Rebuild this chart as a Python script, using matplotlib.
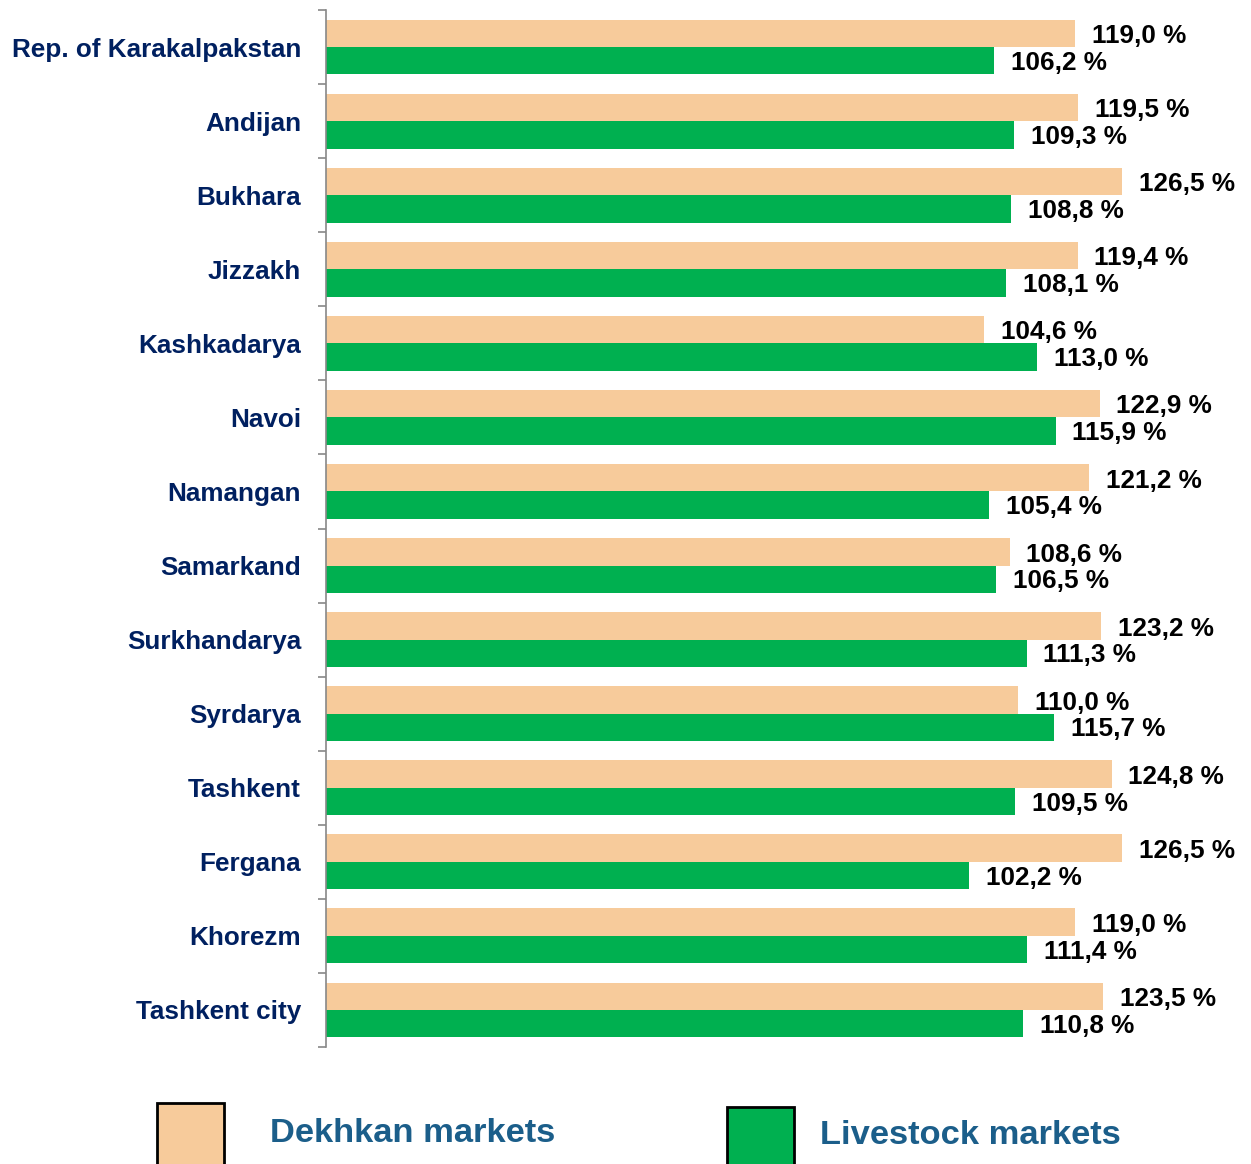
import matplotlib.pyplot as plt
from matplotlib.patches import Rectangle
import numpy as np

regions = ["Rep. of Karakalpakstan", "Andijan", "Bukhara", "Jizzakh", "Kashkadarya",
           "Navoi", "Namangan", "Samarkand", "Surkhandarya", "Syrdarya",
           "Tashkent", "Fergana", "Khorezm", "Tashkent city"]
dekhkan = [119.0, 119.5, 126.5, 119.4, 104.6, 122.9, 121.2, 108.6, 123.2, 110.0,
           124.8, 126.5, 119.0, 123.5]
livestock = [106.2, 109.3, 108.8, 108.1, 113.0, 115.9, 105.4, 106.5, 111.3, 115.7,
             109.5, 102.2, 111.4, 110.8]

ORANGE = "#F7CB9B"
GREEN = "#00B050"
NAVY = "#002060"
TEAL = "#1B5E8A"

plt.rcParams['font.family'] = ['Liberation Sans', 'DejaVu Sans']

W, H = 1251, 1164
fig = plt.figure(figsize=(W / 100, H / 100), dpi=100)
ax = fig.add_axes([326 / W, 1 - 1047 / H, (1245 - 326) / W, (1047 - 10) / H])

y = np.arange(len(regions))
bh = 0.37
ax.barh(y - bh / 2, dekhkan, height=bh, color=ORANGE)
ax.barh(y + bh / 2, livestock, height=bh, color=GREEN)

for yi, v in zip(y, dekhkan):
    ax.annotate(f"{v:.1f} %".replace(".", ","), (v, yi - bh / 2), xytext=(12, -2),
                textcoords="offset points", va="center", ha="left",
                fontsize=18.8, fontweight="bold", color="black")
for yi, v in zip(y, livestock):
    ax.annotate(f"{v:.1f} %".replace(".", ","), (v, yi + bh / 2), xytext=(12, -1.5),
                textcoords="offset points", va="center", ha="left",
                fontsize=18.8, fontweight="bold", color="black")

ax.set_xlim(0, 146)
ax.set_ylim(len(regions) - 0.5, -0.5)

for s in ["top", "right", "bottom"]:
    ax.spines[s].set_visible(False)
ax.spines["left"].set_color("#888888")
ax.spines["left"].set_linewidth(1.2)
ax.set_xticks([])

# tick marks between categories, names centred on each pair of bars
ax.set_yticks(np.arange(-0.5, len(regions), 1))
ax.set_yticklabels([])
ax.tick_params(axis="y", which="major", length=6, width=1.2, color="#888888")
ax.set_yticks(y, minor=True)
ax.set_yticklabels(regions, minor=True, fontsize=18.8, fontweight="bold", color=NAVY)
ax.tick_params(axis="y", which="minor", length=0, pad=18)

# legend at the bottom
fig.patches.append(Rectangle((157 / W, 1 - 1166 / H), 67 / W, 63 / H,
                             transform=fig.transFigure, facecolor=ORANGE,
                             edgecolor="black", linewidth=2, clip_on=False))
fig.patches.append(Rectangle((727 / W, 1 - 1166 / H), 67 / W, 59 / H,
                             transform=fig.transFigure, facecolor=GREEN,
                             edgecolor="black", linewidth=2, clip_on=False))
fig.text(270 / W, 1 - 1134 / H, "Dekhkan markets", fontsize=24.8, fontweight="bold",
         color=TEAL, va="center", ha="left")
fig.text(820 / W, 1 - 1136 / H, "Livestock markets", fontsize=24.8, fontweight="bold",
         color=TEAL, va="center", ha="left")

fig.savefig("out.png", dpi=100)
